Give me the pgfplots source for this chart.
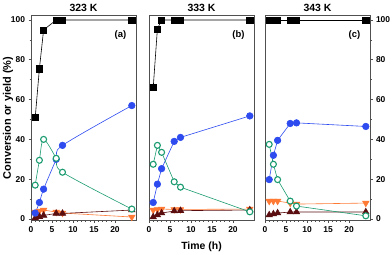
\documentclass[border=0pt]{standalone}
\usepackage{fontspec}
\setmainfont{Liberation Sans}
\usepackage{pgfplots}
\pgfplotsset{compat=1.18}
\definecolor{cblue}{HTML}{2D4BEF}
\definecolor{cgreen}{HTML}{1A9B70}
\definecolor{corange}{HTML}{FF7A35}
\definecolor{cbrown}{HTML}{5A0E10}
\definecolor{cframe}{HTML}{505050}
\tikzset{ttl/.style={font=\fontsize{10.5}{12}\selectfont\bfseries},
 lbl/.style={font=\fontsize{9.5}{11}\selectfont\bfseries}}
\pgfplotsset{
 panel/.style={
  width=105bp, height=204bp, scale only axis,
  xmin=0, xmax=25, ymin=-0.5, ymax=102,
  xtick={0,5,...,20}, minor x tick num=4,
  ytick={0,20,...,100}, minor y tick num=1,
  tick align=outside, xtick pos=left,
  axis line style={cframe, line width=1bp},
  every tick/.style={cframe, line width=0.6bp},
  major tick length=2.5bp, minor tick length=1.5bp,
  /pgf/number format/assume math mode=true,
  tick label style={font=\fontsize{8.5}{10}\selectfont\bfseries},
  xticklabel style={yshift=-0.5bp},
  clip=false,
 },
 sq/.style={black, line width=0.6bp, mark=square*, mark size=3.1bp, mark options={fill=black, draw=black}},
 bl/.style={cblue, line width=0.6bp, mark=*, mark size=3.3bp, mark options={fill=cblue, draw=cblue}},
 gr/.style={cgreen, line width=0.6bp, mark=*, mark size=3bp, mark options={fill=white, draw=cgreen, line width=1.1bp}},
 orr/.style={corange, line width=0.6bp, mark=triangle*, mark size=3.7bp, mark options={fill=corange, draw=corange, rotate=180}},
 br/.style={cbrown, line width=0.6bp, mark=triangle*, mark size=3.7bp, mark options={fill=cbrown, draw=cbrown}},
}
\begin{document}
\begin{tikzpicture}
\path[use as bounding box] (-31bp,-35bp) rectangle (361bp,220bp);
% ---------------- (a) 323 K
\begin{axis}[panel, at={(0,0)}, anchor=south west, ytick pos=left]
\addplot[orr] coordinates {(1,3.5)(2,4)(3,4.5)(6,3.5)(7.5,3)(24,1)};
\addplot[br] coordinates {(1,0.5)(2,1.2)(3,1.8)(6,2.8)(7.5,2.8)(24,4.5)};
\addplot[bl, smooth, tension=0.5] coordinates {(1,3)(2,8.3)(3,15)(6,30)(7.5,37)(24,57)};
\addplot[gr, smooth, tension=0.5] coordinates {(1,17)(2,29.5)(3,40)(6,30.5)(7.5,23.5)(24,5)};
\addplot[sq] coordinates {(1,51)(2,75.5)(3,95)(6,100)(7.5,100)(24,100)};
\node[lbl] at (axis cs:21.3,92.5) {(a)};
\node[ttl, anchor=south] at (rel axis cs:0.5,1) [yshift=1bp] {323 K};
\end{axis}
\node[rotate=90, font=\fontsize{11}{13}\selectfont\bfseries] at (-23bp,102bp) {Conversion or yield (\%)};
% ---------------- (b) 333 K
\begin{axis}[panel, at={(118bp,0)}, anchor=south west, ytick=\empty]
\addplot[orr] coordinates {(1,4.5)(2,4.8)(3,5)(6,4.8)(7.5,4.8)(24,5)};
\addplot[br] coordinates {(1,1)(2,2)(3,3)(6,4)(7.5,4.2)(24,4.5)};
\addplot[bl] coordinates {(1,8.3)(2,17.5)(3,25.3)(6,39)(7.5,41)(24,51.8)};
\addplot[gr] coordinates {(1,27.5)(2,37)(3,33.5)(6,18.7)(7.5,16)(24,3.6)};
\addplot[sq] coordinates {(1,66)(2,95.5)(3,100)(6,100)(7.5,100)(24,100)};
\node[lbl] at (axis cs:21.3,92.5) {(b)};
\node[ttl, anchor=south] at (rel axis cs:0.5,1) [yshift=1bp] {333 K};
\node[ttl] at (rel axis cs:0.5,0) [yshift=-27bp] {Time (h)};
\end{axis}
% ---------------- (c) 343 K
\begin{axis}[panel, at={(234bp,0)}, anchor=south west, ytick pos=right, yticklabel pos=right]
\addplot[orr] coordinates {(1,9)(2,9)(3,9)(6,8)(7.5,7.5)(24,8)};
\addplot[br] coordinates {(1,2)(2,2.5)(3,3)(6,3.5)(7.5,3.5)(24,3.5)};
\addplot[bl] coordinates {(1,19.8)(2,32)(3,39.5)(6,48)(7.5,48.3)(24,46.5)};
\addplot[gr] coordinates {(1,37.5)(2,27.5)(3,19.8)(6,9)(7.5,6.5)(24,1.6)};
\addplot[sq] coordinates {(1,100)(2,100)(3,100)(6,100)(7.5,100)(24,100)};
\node[lbl] at (axis cs:21.3,92.5) {(c)};
\node[ttl, anchor=south] at (rel axis cs:0.5,1) [yshift=1bp] {343 K};
\end{axis}
\end{tikzpicture}
\end{document}
